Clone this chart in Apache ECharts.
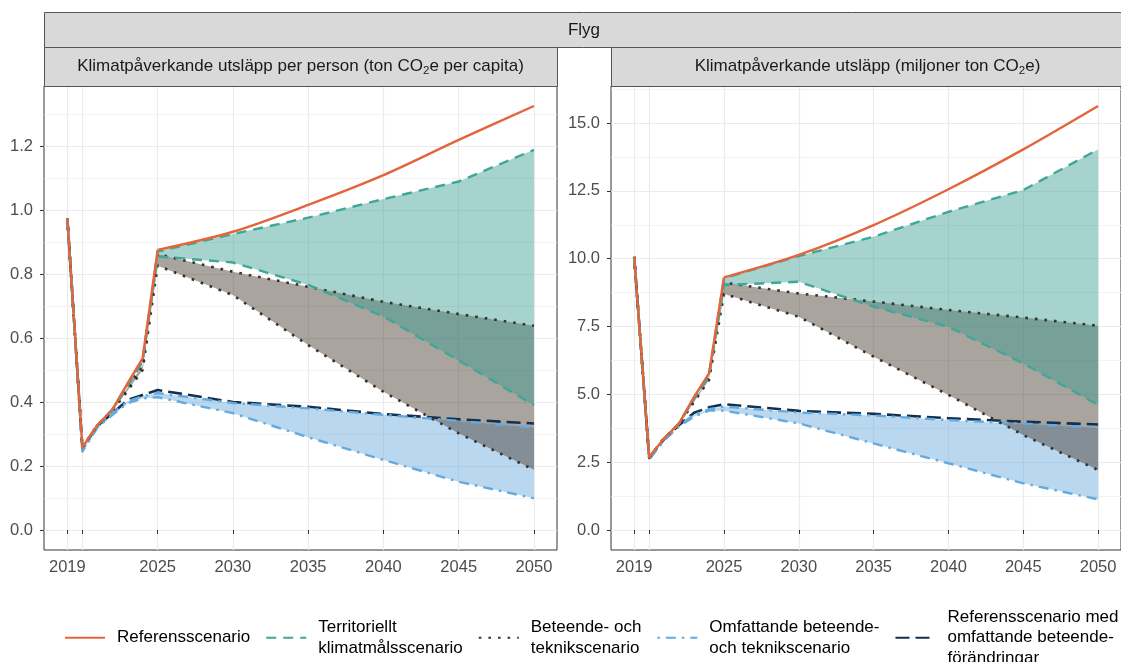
<!DOCTYPE html>
<html>
<head>
<meta charset="utf-8">
<script src="https://cdn.jsdelivr.net/npm/echarts@6/dist/echarts.min.js"></script>
<style>
html,body{margin:0;padding:0;background:#fff;}
#chart{width:1121px;height:662px;}
</style>
</head>
<body>
<div id="chart"></div>
<script>
// ---------- DATA ----------
const YEARS = [2019, 2020, 2021, 2022, 2023, 2024, 2025, 2030, 2035, 2040, 2045, 2050];

// Per capita (ton CO2e per capita)
const refPc     = [0.975, 0.258, 0.328, 0.377, 0.458, 0.536, 0.875, 0.932, 1.016, 1.109, 1.219, 1.325];
const terrHiPc  = [0.975, 0.258, 0.328, 0.377, 0.455, 0.530, 0.870, 0.925, 0.976, 1.034, 1.089, 1.188];
const terrLoPc  = [0.975, 0.258, 0.328, 0.375, 0.450, 0.526, 0.855, 0.836, 0.766, 0.667, 0.530, 0.390];
const behHiPc   = [0.975, 0.258, 0.328, 0.375, 0.445, 0.515, 0.862, 0.807, 0.760, 0.713, 0.675, 0.638];
const behLoPc   = [0.975, 0.258, 0.328, 0.372, 0.435, 0.500, 0.826, 0.734, 0.578, 0.432, 0.302, 0.188];
const omfHiPc   = [0.975, 0.250, 0.322, 0.365, 0.402, 0.418, 0.428, 0.397, 0.380, 0.360, 0.341, 0.320];
const omfLoPc   = [0.975, 0.245, 0.320, 0.360, 0.396, 0.411, 0.415, 0.365, 0.290, 0.219, 0.151, 0.099];
const refBehPc  = [0.975, 0.255, 0.325, 0.365, 0.406, 0.422, 0.4375, 0.400, 0.385, 0.3625, 0.346, 0.333];

// Total (miljoner ton CO2e)
const refTot    = [10.07, 2.68, 3.38, 3.93, 4.91, 5.77, 9.31, 10.14, 11.24, 12.56, 14.03, 15.63];
const terrHiTot = [10.07, 2.68, 3.38, 3.93, 4.88, 5.70, 9.28, 10.10, 10.81, 11.73, 12.53, 14.03];
const terrLoTot = [10.07, 2.68, 3.38, 3.92, 4.84, 5.65, 9.03, 9.15, 8.23, 7.49, 6.14, 4.61];
const behHiTot  = [10.07, 2.68, 3.38, 3.92, 4.80, 5.60, 9.12, 8.72, 8.42, 8.11, 7.83, 7.53];
const behLoTot  = [10.07, 2.68, 3.38, 3.90, 4.72, 5.53, 8.70, 7.86, 6.39, 4.98, 3.50, 2.21];
const omfHiTot  = [10.07, 2.62, 3.32, 3.85, 4.25, 4.45, 4.55, 4.33, 4.22, 4.05, 3.92, 3.77];
const omfLoTot  = [10.07, 2.60, 3.30, 3.82, 4.18, 4.40, 4.40, 3.93, 3.19, 2.46, 1.72, 1.13];
const refBehTot = [10.07, 2.66, 3.35, 3.87, 4.32, 4.52, 4.64, 4.39, 4.28, 4.12, 3.99, 3.89];

// Ticks / labels
const X_TICKS  = [2019, 2020, 2025, 2030, 2035, 2040, 2045, 2050];
const X_LABELS = [2019, 2025, 2030, 2035, 2040, 2045, 2050];
const Y_TICKS_PC  = [0, 0.2, 0.4, 0.6, 0.8, 1.0, 1.2];
const Y_MINOR_PC  = [0.1, 0.3, 0.5, 0.7, 0.9, 1.1, 1.3];
const Y_TICKS_TOT = [0, 2.5, 5, 7.5, 10, 12.5, 15];
const Y_MINOR_TOT = [1.25, 3.75, 6.25, 8.75, 11.25, 13.75, 16.25];

const NAMES = [
  'Referensscenario',
  'Territoriellt\nklimatmålsscenario',
  'Beteende- och\nteknikscenario',
  'Omfattande beteende-\noch teknikscenario',
  'Referensscenario med\nomfattande beteende-\nförändringar'
];
const FACET_TOP = 'Flyg';
const FACET_LEFT = 'Klimatpåverkande utsläpp per person (ton CO{sub|2}e per capita)';
const FACET_RIGHT = 'Klimatpåverkande utsläpp (miljoner ton CO{sub|2}e)';

// ---------- STYLE ----------
const FONT = '"Liberation Sans", Arial, Helvetica, sans-serif';
const C_REF = '#E4643B', C_TERR = '#3FA796', C_BEH = '#3b302a', C_OMF = '#64AADF', C_NAVY = '#13304f';
const F_TERR = 'rgba(57,157,144,0.45)', F_BEH = 'rgba(66,53,42,0.45)', F_OMF = 'rgba(99,168,219,0.45)';
const LINESTYLES = [
  {color: C_REF,  width: 2.4, type: 'solid'},
  {color: C_TERR, width: 2.4, type: [10, 7]},
  {color: C_BEH,  width: 2.6, type: [2.6, 7]},
  {color: C_OMF,  width: 2.4, type: [2.5, 6, 10, 6]},
  {color: C_NAVY, width: 2.6, type: [14, 6]}
];
const SPLIT = 6; // index of 2025: history drawn straight, projection of reference drawn smooth

const XMIN = 2017.45, XMAX = 2051.53;
const panels = [
  {left: 44, ymin: -0.0625, ymax: 1.3875, ticks: Y_TICKS_PC, minor: Y_MINOR_PC,
   lines: [[0, refPc], [1, terrHiPc], [1, terrLoPc], [2, behHiPc], [2, behLoPc], [3, omfHiPc], [3, omfLoPc], [4, refBehPc]],
   ribbons: [[omfHiPc, omfLoPc, F_OMF], [behHiPc, behLoPc, F_BEH], [terrHiPc, terrLoPc, F_TERR]]},
  {left: 611, ymin: -0.737, ymax: 16.366, ticks: Y_TICKS_TOT, minor: Y_MINOR_TOT,
   lines: [[0, refTot], [1, terrHiTot], [1, terrLoTot], [2, behHiTot], [2, behLoTot], [3, omfHiTot], [3, omfLoTot], [4, refBehTot]],
   ribbons: [[omfHiTot, omfLoTot, F_OMF], [behHiTot, behLoTot, F_BEH], [terrHiTot, terrLoTot, F_TERR]]}
];

const grids = [], xAxes = [], yAxes = [], series = [];
const lineDraw = (order) => [4, 3, 2, 1, 0].indexOf(order);
const lineSeries = (k, pi, pts, smooth) => ({
  type: 'line', name: NAMES[k], xAxisIndex: pi, yAxisIndex: pi * 2,
  data: pts, smooth: smooth,
  showSymbol: false, symbol: 'none', silent: true, animation: false,
  lineStyle: Object.assign({cap: 'butt', join: 'round'}, LINESTYLES[k]),
  itemStyle: {color: LINESTYLES[k].color},
  z: 10 + lineDraw(k)
});

panels.forEach((p, pi) => {
  grids.push({left: p.left, top: 86, width: 513, height: 464, show: true,
              borderColor: '#333333', borderWidth: 1, backgroundColor: '#fff'});
  xAxes.push({
    type: 'value', gridIndex: pi, min: XMIN, max: XMAX,
    axisLine: {show: false},
    axisTick: {show: true, length: 4, customValues: X_TICKS, lineStyle: {color: '#333', width: 1}},
    axisLabel: {customValues: X_LABELS, formatter: v => String(Math.round(v)), color: '#4d4d4d',
                fontSize: 16.5, fontFamily: FONT, margin: 9},
    splitLine: {show: true, lineStyle: {color: '#ebebeb', width: 1.2}}
  });
  yAxes.push({
    type: 'value', gridIndex: pi, min: p.ymin, max: p.ymax, position: 'left',
    axisLine: {show: false},
    axisTick: {show: true, length: 4, customValues: p.ticks, lineStyle: {color: '#333', width: 1}},
    axisLabel: {customValues: p.ticks, formatter: v => v.toFixed(1), color: '#4d4d4d',
                fontSize: 16.5, fontFamily: FONT, margin: 11},
    splitLine: {show: true, lineStyle: {color: '#ebebeb', width: 1.2}}
  });
  yAxes.push({
    type: 'value', gridIndex: pi, min: p.ymin, max: p.ymax, position: 'left',
    axisLine: {show: false},
    axisTick: {show: false, customValues: p.minor},
    axisLabel: {show: false},
    splitLine: {show: true, lineStyle: {color: '#f0f0f0', width: 0.8}}
  });
  // lines (listed first so the legend picks them)
  p.lines.forEach(([k, arr], li) => {
    const pts = YEARS.map((y, i) => [y, arr[i]]);
    if (li === 0) {
      series.push(lineSeries(k, pi, pts.slice(0, SPLIT + 1), false));
      series.push(lineSeries(k, pi, pts.slice(SPLIT), 0.3));
    } else {
      series.push(lineSeries(k, pi, pts, false));
    }
  });
  p.ribbons.forEach(([hi, lo, fill], ri) => {
    series.push({
      type: 'custom', xAxisIndex: pi, yAxisIndex: pi * 2, silent: true, animation: false,
      coordinateSystem: 'cartesian2d',
      data: [[YEARS[0], lo[0]]],
      z: 2 + ri,
      renderItem: (params, api) => {
        const pts = [];
        for (let i = 0; i < YEARS.length; i++) pts.push(api.coord([YEARS[i], hi[i]]));
        for (let i = YEARS.length - 1; i >= 0; i--) pts.push(api.coord([YEARS[i], lo[i]]));
        return {type: 'polygon', shape: {points: pts}, style: {fill: fill, stroke: null}};
      }
    });
  });
});

const subRich = {sub: {fontSize: 11.5, fontFamily: FONT, color: '#1a1a1a', padding: [8, 0, 0, 0]}};
const stripText = (txt, cx, cy) => ({
  type: 'text', x: cx, y: cy, z: 100,
  style: {text: txt, fontSize: 17, fontFamily: FONT, fill: '#1a1a1a', align: 'center', verticalAlign: 'middle', rich: subRich}
});
const stripRect = (x, y, w, h) => ({
  type: 'rect', shape: {x: x + 0.5, y: y + 0.5, width: w, height: h}, z: 99,
  style: {fill: '#d9d9d9', stroke: '#555', lineWidth: 1}
});

const option = {
  backgroundColor: '#fff',
  animation: false,
  grid: grids,
  xAxis: xAxes,
  yAxis: yAxes,
  series: series,
  legend: {
    data: NAMES, left: 59, top: 602, width: 1080, orient: 'horizontal',
    itemWidth: 40, itemHeight: 14, itemGap: 15,
    selectedMode: false,
    itemStyle: {opacity: 0, borderWidth: 0},
    textStyle: {fontSize: 17, fontFamily: FONT, color: '#000', lineHeight: 20.5, padding: [0, 0, 0, 7]}
  },
  graphic: [
    stripRect(44, 12, 1080, 35),
    stripText(FACET_TOP, 584, 30),
    stripRect(44, 47, 513, 39),
    stripRect(611, 47, 513, 39),
    stripText(FACET_LEFT, 300.5, 66.5),
    stripText(FACET_RIGHT, 867.5, 66.5)
  ]
};

const chart = echarts.init(document.getElementById('chart'), null, {renderer: 'canvas'});
chart.setOption(option);
</script>
</body>
</html>
